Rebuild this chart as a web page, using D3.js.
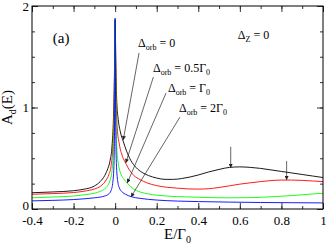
<!DOCTYPE html>
<html>
<head>
<meta charset="utf-8">
<script src="https://d3js.org/d3.v7.min.js"></script>
<style>
	body{margin:0;background:#fff;}
	svg{display:block;font-family:"Liberation Serif","DejaVu Serif",serif;}
	.curve{fill:none;stroke-width:0.9;}
	.lead{stroke:#222;stroke-width:0.7;fill:none;}
</style>
</head>
<body>
<div id="chart"></div>
<script>
//Series: [E/Gamma0, A_d(E)]
var orb0 = [[-0.4,0.16],[-0.3,0.168],[-0.2,0.18],[-0.15,0.195],[-0.1,0.226],[-0.072,0.27],[-0.05,0.33],[-0.035,0.4],[-0.024,0.48],[-0.015,0.62],[-0.008,0.9],[-0.004,1.25],[-0.0015,1.65],[0,1.86],[0.0015,1.7],[0.004,1.35],[0.008,1.05],[0.015,0.88],[0.025,0.76],[0.04,0.66],[0.055,0.57],[0.075,0.48],[0.1,0.41],[0.13,0.36],[0.16,0.33],[0.2,0.305],[0.24,0.292],[0.28,0.292],[0.32,0.3],[0.36,0.315],[0.4,0.335],[0.45,0.365],[0.5,0.39],[0.55,0.41],[0.6,0.415],[0.65,0.41],[0.7,0.4],[0.75,0.385],[0.8,0.37],[0.85,0.355],[0.9,0.34],[0.95,0.325],[1.0,0.31]];
var orbHalf = [[-0.4,0.145],[-0.3,0.152],[-0.2,0.162],[-0.15,0.175],[-0.1,0.197],[-0.07,0.225],[-0.043,0.286],[-0.03,0.34],[-0.02,0.42],[-0.01,0.65],[-0.005,1.0],[-0.002,1.5],[0,1.86],[0.002,1.55],[0.005,1.1],[0.01,0.8],[0.02,0.64],[0.035,0.52],[0.051,0.45],[0.07,0.38],[0.09,0.33],[0.12,0.29],[0.15,0.26],[0.2,0.23],[0.25,0.214],[0.3,0.205],[0.35,0.198],[0.4,0.196],[0.45,0.2],[0.5,0.212],[0.55,0.228],[0.6,0.245],[0.65,0.258],[0.7,0.27],[0.75,0.28],[0.8,0.285],[0.85,0.285],[0.9,0.282],[0.95,0.276],[1.0,0.27]];
var orb1 = [[-0.4,0.11],[-0.3,0.118],[-0.2,0.128],[-0.15,0.14],[-0.1,0.155],[-0.07,0.175],[-0.056,0.19],[-0.04,0.22],[-0.025,0.28],[-0.015,0.38],[-0.008,0.6],[-0.004,0.95],[-0.0015,1.5],[0,1.87],[0.0015,1.5],[0.004,0.95],[0.008,0.6],[0.015,0.45],[0.025,0.36],[0.04,0.3],[0.058,0.256],[0.087,0.2],[0.12,0.168],[0.16,0.148],[0.2,0.136],[0.3,0.122],[0.4,0.115],[0.55,0.11],[0.65,0.112],[0.75,0.12],[0.85,0.132],[0.95,0.148],[1.0,0.155]];
var orb2 = [[-0.4,0.08],[-0.3,0.085],[-0.2,0.093],[-0.15,0.1],[-0.1,0.11],[-0.07,0.118],[-0.05,0.128],[-0.03,0.15],[-0.02,0.18],[-0.012,0.25],[-0.006,0.42],[-0.003,0.75],[-0.001,1.4],[0,1.88],[0.001,1.4],[0.003,0.8],[0.006,0.45],[0.012,0.28],[0.02,0.21],[0.035,0.165],[0.05,0.145],[0.076,0.122],[0.12,0.105],[0.2,0.088],[0.3,0.078],[0.4,0.073],[0.55,0.068],[0.7,0.064],[0.85,0.062],[1.0,0.06]];

var seriesNames = ["orb0","orbHalf","orb1","orb2"];
var seriesColors = ["#000000","#ff0000","#00ff00","#0000ff"];

var xTicks = [-0.4,-0.2,0,0.2,0.4,0.6,0.8,1];
var xTickLabels = ["-0.4","-0.2","0","0.2","0.4","0.6","0.8","1"];
var yTicks = [0,1,2];
var yTickLabels = ["0","1","2"];

//labels: [E, A, main, sub, rest, restSub]
var labelText = [
	[0.11,1.60,"\u0394","orb"," = 0",""],
	[0.182,1.35,"\u0394","orb"," = 0.5\u0393","0"],
	[0.254,1.15,"\u0394","orb"," = \u0393","0"],
	[0.307,0.955,"\u0394","orb"," = 2\u0393","0"],
	[0.59,1.675,"\u0394","Z"," = 0",""]
];
//leader arrows: [E from, A from, E to, A to]
var leaders = [
	[0.115,1.537,0.039,0.68],
	[0.184,1.30,0.051,0.453],
	[0.245,1.143,0.058,0.256],
	[0.312,0.906,0.076,0.118],
	[0.556,0.613,0.556,0.405],
	[0.825,0.473,0.825,0.286]
];

var margin = {top: 6, right: 4, bottom: 36, left: 32},
	width = 327 - margin.left - margin.right,
	height = 245 - margin.top - margin.bottom;

var x = d3.scaleLinear().domain([-0.4,1]).range([0,width]);
var y = d3.scaleLinear().domain([0,2]).range([height,0]);

var svg = d3.select("#chart").append("svg")
	.attr("width", width + margin.left + margin.right)
	.attr("height", height + margin.top + margin.bottom);

svg.append("defs").append("marker")
	.attr("id","head")
	.attr("viewBox","0 0 10 10")
	.attr("refX",10)
	.attr("refY",5)
	.attr("markerWidth",5)
	.attr("markerHeight",4)
	.attr("markerUnits","userSpaceOnUse")
	.attr("orient","auto")
  .append("path")
	.attr("d","M0,0L10,5L0,10z")
	.attr("fill","#222");

var g = svg.append("g")
	.attr("transform","translate(" + margin.left + "," + margin.top + ")");

g.append("defs").append("clipPath").attr("id","clip")
  .append("rect").attr("width",width).attr("height",height);

//curves
var line = d3.line()
	.curve(d3.curveMonotoneX)
	.x(function(d){ return x(d[0]); })
	.y(function(d){ return y(d[1]); });

var allSeries = [orb0, orbHalf, orb1, orb2];
g.append("g").attr("clip-path","url(#clip)")
  .selectAll(".curve")
	.data(allSeries)
  .enter().append("path")
	.attr("class", function(d,i){ return "curve " + seriesNames[i]; })
	.attr("d", line)
	.style("stroke", function(d,i){ return seriesColors[i]; });

//axes, ticks pointing inward on all four sides
var xMinor = d3.range(-0.4,1.0001,0.1);
var yMinor = d3.range(0,2.0001,0.25);
function tickAxis(axis, scale, major, minor, labels, showLabels, pad){
	var a = axis(scale).tickValues(major).tickSizeInner(-6).tickSizeOuter(0).tickPadding(pad)
		.tickFormat(function(d,i){ return showLabels ? labels[i] : ""; });
	var b = axis(scale).tickValues(minor).tickSizeInner(-3).tickSizeOuter(0).tickFormat("");
	return [a,b];
}
var bottom = tickAxis(d3.axisBottom, x, xTicks, xMinor, xTickLabels, true, 6.5);
var top_ = tickAxis(d3.axisTop, x, xTicks, xMinor, xTickLabels, false, 4);
var left = tickAxis(d3.axisLeft, y, yTicks, yMinor, yTickLabels, true, 3);
var right = tickAxis(d3.axisRight, y, yTicks, yMinor, yTickLabels, false, 3);

[[bottom,"translate(0," + height + ")"],[top_,"translate(0,0)"],[left,"translate(0,0)"],[right,"translate(" + width + ",0)"]]
	.forEach(function(p){
		p[0].forEach(function(ax){
			var sel = g.append("g").attr("class","axis").attr("transform",p[1]).call(ax);
			sel.select(".domain").remove();
			sel.selectAll("line").attr("stroke","#333");
			sel.selectAll("text")
				.style("font-family","'Liberation Serif',serif")
				.style("font-size","13px")
				.attr("fill","#000");
		});
	});

//the zero of the y axis sits just above the x labels
g.selectAll(".axis .tick text").filter(function(d){ return d === 0 && this.getAttribute("x") < 0; })
	.attr("dy","0.05em");

g.append("rect")
	.attr("width",width).attr("height",height)
	.attr("fill","none").attr("stroke","#000").attr("stroke-width",1);

//axis titles
var xt = g.append("text")
	.attr("x", x(0.3))
	.attr("y", height + 30)
	.attr("text-anchor","middle")
	.style("font-size","15px");
xt.append("tspan").text("E/\u0393");
xt.append("tspan").attr("dy",4).style("font-size","10px").text("0");

var yt = g.append("text")
	.attr("transform","translate(" + (-20) + "," + y(1) + ") rotate(-90)")
	.attr("text-anchor","middle")
	.style("font-size","15px");
yt.append("tspan").text("A");
yt.append("tspan").attr("dy",4).style("font-size","10px").text("d");
yt.append("tspan").attr("dy",-4).text("(E)");

g.append("text")
	.attr("x", x(-0.3))
	.attr("y", y(1.635))
	.style("font-size","15px")
	.text("(a)");

//labels with subscripts
labelText.forEach(function(l){
	var t = g.append("text")
		.attr("x", x(l[0]))
		.attr("y", y(l[1]))
		.style("font-size","12px");
	t.append("tspan").text(l[2]);
	t.append("tspan").attr("dy",3).style("font-size","8px").text(l[3]);
	t.append("tspan").attr("dy",-3).text(l[4]);
	if(l[5]) t.append("tspan").attr("dy",3).style("font-size","8px").text(l[5]);
});

//leader arrows
g.selectAll(".lead")
	.data(leaders)
  .enter().append("line")
	.attr("class","lead")
	.attr("x1", function(d){ return x(d[0]); })
	.attr("y1", function(d){ return y(d[1]); })
	.attr("x2", function(d){ return x(d[2]); })
	.attr("y2", function(d){ return y(d[3]); })
	.attr("marker-end","url(#head)");
</script>
</body>
</html>
